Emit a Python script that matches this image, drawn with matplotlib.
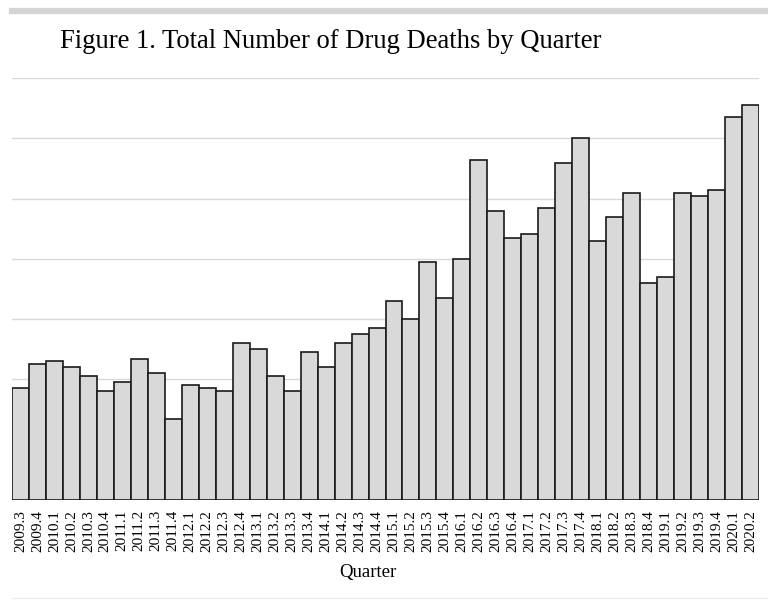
import matplotlib
matplotlib.use("Agg")
import matplotlib.pyplot as plt
from matplotlib.lines import Line2D

quarters = ["2009.3", "2009.4",
            "2010.1", "2010.2", "2010.3", "2010.4",
            "2011.1", "2011.2", "2011.3", "2011.4",
            "2012.1", "2012.2", "2012.3", "2012.4",
            "2013.1", "2013.2", "2013.3", "2013.4",
            "2014.1", "2014.2", "2014.3", "2014.4",
            "2015.1", "2015.2", "2015.3", "2015.4",
            "2016.1", "2016.2", "2016.3", "2016.4",
            "2017.1", "2017.2", "2017.3", "2017.4",
            "2018.1", "2018.2", "2018.3", "2018.4",
            "2019.1", "2019.2", "2019.3", "2019.4",
            "2020.1", "2020.2"]
deaths = [1.85, 2.25, 2.30, 2.20, 2.05, 1.80,
          1.95, 2.34, 2.10, 1.35,
          1.90, 1.85, 1.80, 2.60,
          2.50, 2.05, 1.80, 2.45,
          2.20, 2.60, 2.75, 2.85,
          3.30, 3.00, 3.95, 3.35,
          4.00, 5.64, 4.80, 4.35,
          4.41, 4.85, 5.59, 6.00,
          4.30, 4.70, 5.10, 3.60,
          3.70, 5.10, 5.05, 5.15,
          6.35, 6.55]
grid_levels = [0, 1, 2, 3, 4, 5, 6, 7]

serif = ["Liberation Serif", "DejaVu Serif"]

fig = plt.figure(figsize=(7.68, 6.0), dpi=100)
ax = fig.add_axes([12 / 768, 1 - 500 / 600, 747 / 768, 422 / 600])

x = list(range(len(quarters)))
ax.bar(x, deaths, width=1.0, color="#d9d9d9", edgecolor="#1a1a1a",
       linewidth=1.2, zorder=3)

ax.set_xlim(-0.5, len(quarters) - 0.5)
ax.set_ylim(0, 7)
ax.set_yticks(grid_levels)
ax.yaxis.grid(True, color="#d9d9d9", linewidth=1.0, zorder=0)
ax.set_axisbelow(True)
ax.tick_params(axis="y", left=False, labelleft=False)
ax.set_xticks(x)
ax.set_xticklabels(quarters, rotation=90, fontfamily=serif, fontsize=11)
ax.tick_params(axis="x", length=0, pad=7)
for s in ax.spines.values():
    s.set_visible(False)

fig.text(368 / 768, 1 - 572 / 600, "Quarter", ha="center", va="center",
         fontfamily=serif, fontsize=13.5)
fig.text(60 / 768, 1 - 42 / 600, "Figure 1. Total Number of Drug Deaths by Quarter",
         ha="left", va="center", fontfamily=serif, fontsize=19.2)

# decorative top band and bottom rule
fig.add_artist(Line2D([12 / 768, 1.0], [1 - 11 / 600, 1 - 11 / 600],
                      color="#d4d4d4", linewidth=4.5, transform=fig.transFigure))
fig.add_artist(Line2D([12 / 768, 1.0], [1 - 598 / 600, 1 - 598 / 600],
                      color="#ececec", linewidth=1.0, transform=fig.transFigure))

fig.savefig("out.png", dpi=100)
